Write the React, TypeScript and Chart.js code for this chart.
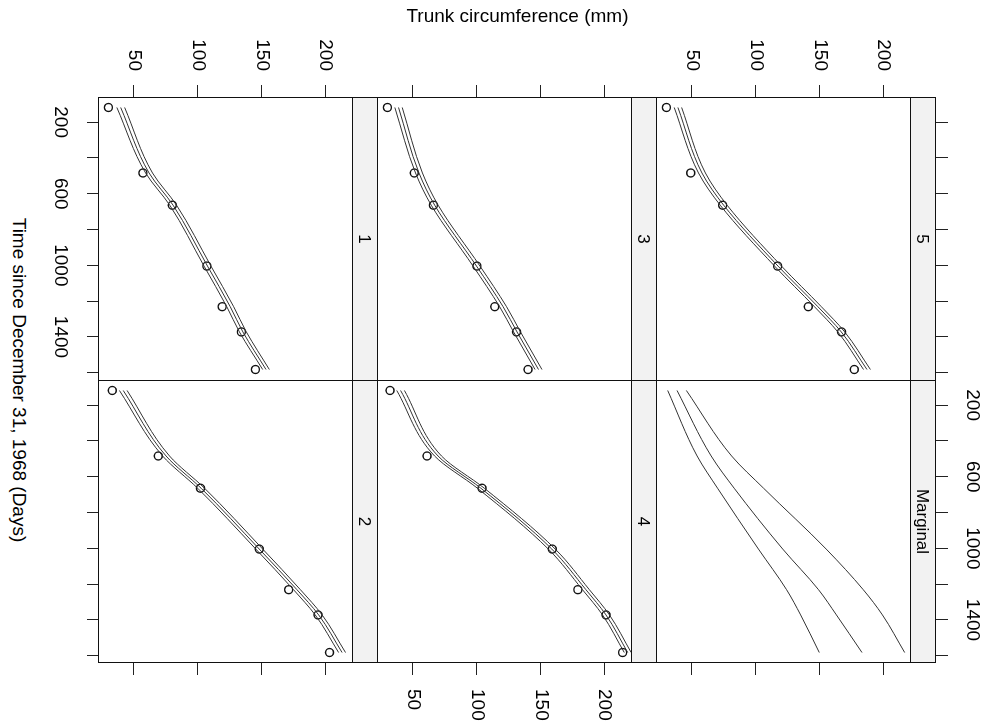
import React, { useEffect, useRef } from "react";
import { Chart, registerables } from "chart.js";

Chart.register(...registerables);

// ---------------- data ----------------
const AGES = [118, 484, 664, 1004, 1231, 1372, 1582];

const TREE_1_OBS = [30, 57, 80, 107, 119, 134, 145];
const TREE_1_LOW = [36.6, 59.1, 78.0, 104.8, 122.6, 132.5, 150.7];
const TREE_1_FIT = [39.6, 61.8, 80.6, 107.5, 125.3, 135.2, 153.3];
const TREE_1_HIGH = [42.7, 64.5, 83.3, 110.2, 128.0, 137.9, 155.9];

const TREE_2_OBS = [33, 69, 102, 148, 171, 194, 203];
const TREE_2_LOW = [38.6, 72.4, 99.8, 145.3, 174.8, 191.8, 210.1];
const TREE_2_FIT = [41.6, 75.1, 102.5, 148.0, 177.5, 194.5, 212.8];
const TREE_2_HIGH = [44.6, 77.8, 105.2, 150.7, 180.2, 197.2, 215.5];

const TREE_3_OBS = [30, 51, 66, 100, 114, 131, 140];
const TREE_3_LOW = [35.8, 52.0, 64.3, 97.0, 117.8, 128.7, 145.5];
const TREE_3_FIT = [38.7, 54.7, 67.0, 99.7, 120.5, 131.4, 148.2];
const TREE_3_HIGH = [41.6, 57.4, 69.7, 102.4, 123.2, 134.1, 150.9];

const TREE_4_OBS = [32, 61, 104, 159, 179, 201, 214];
const TREE_4_LOW = [37.3, 66.9, 100.4, 155.9, 182.6, 198.3, 215.3];
const TREE_4_FIT = [40.3, 69.6, 103.1, 158.6, 185.3, 201.0, 218.0];
const TREE_4_HIGH = [43.3, 72.3, 105.8, 161.3, 188.0, 203.7, 220.7];

const TREE_5_OBS = [30, 49, 74, 117, 141, 167, 177];
const TREE_5_LOW = [36.1, 55.1, 72.1, 114.6, 145.8, 164.1, 184.2];
const TREE_5_FIT = [39.0, 57.8, 74.8, 117.3, 148.5, 166.8, 186.9];
const TREE_5_HIGH = [41.9, 60.5, 77.5, 120.0, 151.2, 169.5, 189.6];

const MARGINAL_LOW = [31.0, 54.0, 70.0, 102.0, 124.0, 135.0, 149.6];
const MARGINAL_FIT = [38.3, 65.0, 83.0, 121.0, 149.0, 163.0, 183.0];
const MARGINAL_HIGH = [45.6, 81.0, 106.0, 155.0, 184.0, 199.0, 216.4];

const CIRC_TICKS = [50, 100, 150, 200];
const TIME_TICKS = [200, 400, 600, 800, 1000, 1200, 1400, 1600];
const TIME_LABELS = [200, 600, 1000, 1400];

const X_TITLE = "Time since December 31, 1968 (Days)";
const Y_TITLE = "Trunk circumference (mm)";

// ---------------- layout (unrotated lattice frame, 726 x 985) ----------------
const FONT = '"Liberation Sans", Arial, Helvetica, sans-serif';
const TMIN = 59.44;
const TMAX = 1640.56;
const CMIN = 22.64;
const CMAX = 221.36;
const COL_X = [97, 380];
const STRIP_Y = [49, 328, 607];
const PW = 283;
const STRIP_H = 25;
const PH = 254;
const CH = STRIP_H + PH; // chart area includes the strip
const CMAX_EXT = CMAX + STRIP_H * ((CMAX - CMIN) / PH);
const AXW = 80;
const AXH = 60;
const LINE = "#333";

type PanelDef = {
  label: string;
  row: number;
  col: number;
  obs: number[] | null;
  low: number[];
  fit: number[];
  high: number[];
};

const PANELS: PanelDef[] = [
  { label: "5", row: 0, col: 0, obs: TREE_5_OBS, low: TREE_5_LOW, fit: TREE_5_FIT, high: TREE_5_HIGH },
  { label: "Marginal", row: 0, col: 1, obs: null, low: MARGINAL_LOW, fit: MARGINAL_FIT, high: MARGINAL_HIGH },
  { label: "3", row: 1, col: 0, obs: TREE_3_OBS, low: TREE_3_LOW, fit: TREE_3_FIT, high: TREE_3_HIGH },
  { label: "4", row: 1, col: 1, obs: TREE_4_OBS, low: TREE_4_LOW, fit: TREE_4_FIT, high: TREE_4_HIGH },
  { label: "1", row: 2, col: 0, obs: TREE_1_OBS, low: TREE_1_LOW, fit: TREE_1_FIT, high: TREE_1_HIGH },
  { label: "2", row: 2, col: 1, obs: TREE_2_OBS, low: TREE_2_LOW, fit: TREE_2_FIT, high: TREE_2_HIGH },
];

function PanelChart({ p }: { p: PanelDef }) {
  const ref = useRef<HTMLCanvasElement>(null);
  const hasL = p.col === 0;
  const hasR = p.col === 1;
  const hasT = p.row === 0;
  const hasB = p.row === 2;
  const W = PW + (hasL ? AXW : 0) + (hasR ? AXW : 0);
  const H = CH + (hasT ? AXH : 0) + (hasB ? AXH : 0);
  const left = COL_X[p.col] - (hasL ? AXW : 0);
  const top = STRIP_Y[p.row] - (hasT ? AXH : 0);

  useEffect(() => {
    if (!ref.current) return;
    const fix = (size: number, horizontal: boolean, show: boolean) => (scale: any) => {
      const s = show ? size : 0;
      if (horizontal) scale.height = s;
      else scale.width = s;
      scale.paddingLeft = 0;
      scale.paddingRight = 0;
      scale.paddingTop = 0;
      scale.paddingBottom = 0;
    };
    const setTicks = (vals: number[]) => (scale: any) => {
      scale.ticks = vals.map((v) => ({ value: v }));
    };
    const grid = {
      display: true,
      drawOnChartArea: false,
      drawTicks: true,
      tickLength: 12,
      color: "#222",
      lineWidth: 1,
    };
    const tickFont = { family: FONT, size: 19 };
    const timeAxis = (pos: string, show: boolean, labels: boolean, pad: number) => ({
      type: "linear",
      position: pos,
      display: show,
      min: TMIN,
      max: TMAX,
      afterBuildTicks: setTicks(TIME_TICKS),
      afterFit: fix(AXH, true, show),
      grid,
      border: { display: false },
      ticks: {
        autoSkip: false,
        maxRotation: 0,
        minRotation: 0,
        padding: pad,
        color: "#000",
        font: tickFont,
        callback: (v: any) => (labels && TIME_LABELS.includes(Number(v)) ? String(v) : ""),
      },
    });
    const circAxis = (pos: string, show: boolean, labels: boolean) => ({
      type: "linear",
      position: pos,
      display: show,
      min: CMIN,
      max: CMAX_EXT,
      afterBuildTicks: setTicks(CIRC_TICKS),
      afterFit: fix(AXW, false, show),
      grid,
      border: { display: false },
      ticks: {
        autoSkip: false,
        padding: 14,
        color: "#000",
        font: tickFont,
        callback: (v: any) => (labels ? String(v) : ""),
      },
    });

    const datasets: any[] = [p.low, p.fit, p.high].map((arr) => ({
      data: AGES.map((a, i) => ({ x: a, y: arr[i] })),
      showLine: true,
      borderColor: LINE,
      borderWidth: 1,
      pointRadius: 0,
      fill: false,
      cubicInterpolationMode: "monotone",
      xAxisID: "x",
      yAxisID: "y",
    }));
    if (p.obs) {
      const obs = p.obs;
      datasets.push({
        data: AGES.map((a, i) => ({ x: a, y: obs[i] })),
        showLine: false,
        pointRadius: 4,
        pointBorderWidth: 1.4,
        pointBorderColor: "#111",
        pointBackgroundColor: "rgba(0,0,0,0)",
        borderColor: "#111",
        backgroundColor: "rgba(0,0,0,0)",
        xAxisID: "x",
        yAxisID: "y",
      });
    }

    const chart = new Chart(ref.current, {
      type: "scatter",
      data: { datasets },
      options: {
        responsive: false,
        animation: false,
        events: [],
        layout: { padding: 0, autoPadding: false },
        plugins: { legend: { display: false }, tooltip: { enabled: false }, title: { display: false } },
        scales: {
          x: timeAxis("bottom", hasB, p.col === 0, 15),
          x2: timeAxis("top", hasT, p.col === 1, 13),
          y: circAxis("left", hasL, p.row !== 1),
          y2: circAxis("right", hasR, p.row === 1),
        } as any,
      } as any,
    });
    return () => chart.destroy();
  }, []);

  return (
    <canvas
      ref={ref}
      width={W}
      height={H}
      style={{ position: "absolute", left, top, width: W, height: H }}
    />
  );
}

export default function App() {
  return (
    <div
      style={{
        position: "fixed",
        left: 0,
        top: 0,
        width: 985,
        height: 726,
        overflow: "hidden",
        background: "#fff",
      }}
    >
      <div
        style={{
          position: "absolute",
          left: 0,
          top: 0,
          width: 726,
          height: 985,
          transformOrigin: "0 0",
          transform: "translate(985px, 0px) rotate(90deg)",
          fontFamily: FONT,
          color: "#000",
        }}
      >
        {PANELS.map((p) => (
          <PanelChart key={p.label} p={p} />
        ))}
        {PANELS.map((p) => (
          <div
            key={"s" + p.label}
            style={{
              position: "absolute",
              left: COL_X[p.col],
              top: STRIP_Y[p.row],
              width: p.col === 0 ? PW + 1 : PW,
              height: STRIP_H + 1,
              boxSizing: "border-box",
              border: "1px solid #111",
              background: "#f2f2f2",
              display: "flex",
              alignItems: "center",
              justifyContent: "center",
              fontSize: 17,
              lineHeight: "17px",
            }}
          >
            {p.label}
          </div>
        ))}
        {PANELS.map((p) => (
          <div
            key={"b" + p.label}
            style={{
              position: "absolute",
              left: COL_X[p.col],
              top: STRIP_Y[p.row] + STRIP_H,
              width: p.col === 0 ? PW + 1 : PW,
              height: PH + 1,
              boxSizing: "border-box",
              border: "1px solid #111",
              pointerEvents: "none",
            }}
          />
        ))}
        <div
          style={{
            position: "absolute",
            left: 80,
            width: 600,
            top: 956,
            height: 19,
            lineHeight: "19px",
            fontSize: 19,
            textAlign: "center",
            whiteSpace: "nowrap",
          }}
        >
          {X_TITLE}
        </div>
        <div
          style={{
            position: "absolute",
            left: 15 - 300,
            width: 600,
            top: 467.5 - 9.5,
            height: 19,
            lineHeight: "19px",
            fontSize: 19,
            textAlign: "center",
            whiteSpace: "nowrap",
            transform: "rotate(-90deg)",
          }}
        >
          {Y_TITLE}
        </div>
      </div>
    </div>
  );
}
